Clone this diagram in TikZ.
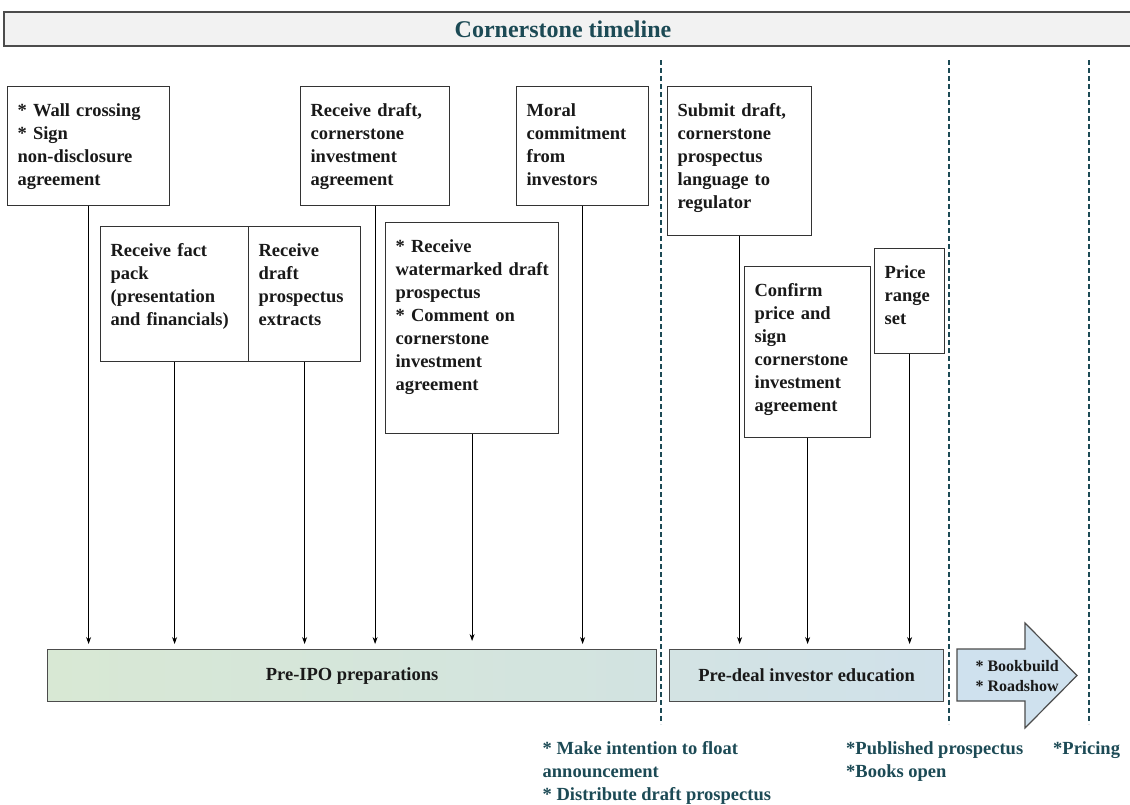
\documentclass[tikz,border=0pt]{standalone}
\usepackage{fontspec}
\setmainfont{Liberation Serif}
\usetikzlibrary{arrows.meta}

\definecolor{tealdark}{HTML}{1C4A55}
\definecolor{titlegray}{HTML}{F2F2F2}
\definecolor{prepleft}{HTML}{D8E8D4}
\definecolor{prepright}{HTML}{D2E3E1}
\definecolor{eduleft}{HTML}{D3E3E3}
\definecolor{eduright}{HTML}{D0E1EA}
\definecolor{bookfill}{HTML}{CFE1EE}

\begin{document}
\begin{tikzpicture}[x=1pt,y=-1pt,>={Stealth[length=7pt,width=5pt]},
  font=\fontsize{18.5}{23}\selectfont\bfseries]
  \tikzstyle{event}=[draw=black!80,line width=1.2pt,anchor=north west,align=left,
    inner xsep=10pt,inner ysep=10pt,text height=20pt,text=black!90]
  \tikzstyle{phase}=[draw=black!70,line width=1.2pt,anchor=north west,
    minimum height=52pt,inner sep=0pt,text=black!90]
  \tikzstyle{note}=[anchor=north west,align=left,inner sep=0pt,text=tealdark]
  \tikzstyle{limit}=[tealdark,line width=2pt,dash pattern=on 5pt off 3pt]
  \tikzstyle{hit}=[->,line width=0.9pt,shorten >=5pt]

  \useasboundingbox (0,0) rectangle (1130,804);

  % title bar
  \draw[draw=black!70,fill=titlegray,line width=1.2pt] (4,12) rectangle (1140,46);
  \node[text=tealdark,font=\fontsize{24}{28}\selectfont\bfseries] (title) at (563,29)
    {Cornerstone timeline};

  % stage limits
  \foreach \x in {661,949,1089}
    \draw[limit] (\x,60) -- (\x,724);

  % events
  \node[event,text width=142pt,text depth=79pt]  (wall)     at (7,86)
    {* Wall crossing\\{}* Sign\\non-disclosure\\agreement};
  \node[event,text width=129pt,text depth=79pt]  (draftcia) at (300,86)
    {Receive draft,\\cornerstone\\investment\\agreement};
  \node[event,text width=112pt,text depth=79pt]  (moral)    at (516,86)
    {Moral\\commitment\\from\\investors};
  \node[event,text width=124pt,text depth=109pt] (submit)   at (667,86)
    {Submit draft,\\cornerstone\\prospectus\\language to\\regulator};
  \node[event,text width=128pt,text depth=95pt]  (fact)     at (100,226)
    {Receive fact\\pack\\(presentation\\and financials)};
  \node[event,text width=92pt,text depth=95pt]   (extract)  at (248,226)
    {Receive\\draft\\prospectus\\extracts};
  \node[event,text width=153pt,text depth=171pt] (water)    at (385,222)
    {* Receive\\watermarked~draft\\prospectus\\{}* Comment on\\cornerstone\\investment\\agreement};
  \node[event,text width=106pt,text depth=131pt] (confirm)  at (744,266)
    {Confirm\\price and\\sign\\cornerstone\\investment\\agreement};
  \node[event,text width=50pt,text depth=65pt]   (range)    at (874,248)
    {Price\\range\\set};

  % phases
  \node[phase,minimum width=609pt,left color=prepleft,right color=prepright]
    (prep) at (47,649) {Pre-IPO preparations};
  \node[phase,minimum width=274pt,left color=eduleft,right color=eduright]
    (edu) at (669,649) {Pre-deal investor education};
  \filldraw[fill=bookfill,draw=black!70,line width=1.2pt]
    (957,649) -- (1025,649) -- (1025,623) -- (1077,675.5) -- (1025,728)
    -- (1025,701) -- (957,701) -- cycle;
  \node[align=left,anchor=west,text=black!90,
    font=\fontsize{16}{20}\selectfont\bfseries] (book) at (972,676)
    {* Bookbuild\\{}* Roadshow};

  % event arrows
  \foreach \ev in {wall,fact,extract,draftcia,moral}
    \draw[hit] (\ev.south) -- (\ev.south |- prep.north);
  \draw[hit,shorten >=8pt] (water.south) -- (water.south |- prep.north);
  \foreach \ev in {submit,confirm,range}
    \draw[hit] (\ev.south) -- (\ev.south |- edu.north);

  % milestones
  \node[note] (ito)     at (542.5,741)
    {* Make intention to float\\announcement\\{}* Distribute draft prospectus};
  \node[note] (publish) at (846,741) {*Published prospectus\\{}*Books open};
  \node[note] (pricing) at (1053,741) {*Pricing};
\end{tikzpicture}
\end{document}
